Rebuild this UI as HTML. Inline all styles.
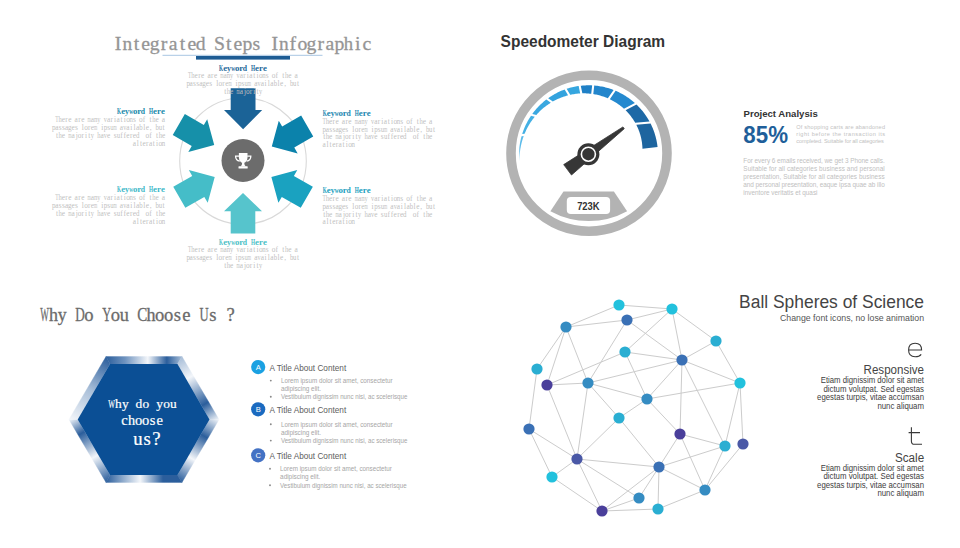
<!DOCTYPE html>
<html><head><meta charset="utf-8"><style>
html,body{margin:0;padding:0;background:#ffffff;width:960px;height:548px;overflow:hidden;}
svg{display:block;}
</style></head><body>
<svg width="960" height="548" viewBox="0 0 960 548">
<rect width="960" height="548" fill="#ffffff"/>
<g font-family='"Liberation Serif", serif' font-size="19.69" font-weight="normal" fill="#959595" stroke="#959595" stroke-width="0.3"><text transform="translate(114.79,49.90) scale(1.000,1)">I</text><text transform="translate(122.38,49.90) scale(0.983,1)">n</text><text transform="translate(133.73,49.90) scale(1.000,1)">t</text><text transform="translate(141.31,49.90) scale(1.000,1)">e</text><text transform="translate(149.78,49.90) scale(1.000,1)">g</text><text transform="translate(160.77,49.90) scale(1.000,1)">r</text><text transform="translate(168.79,49.90) scale(1.000,1)">a</text><text transform="translate(179.81,49.90) scale(1.000,1)">t</text><text transform="translate(187.39,49.90) scale(1.000,1)">e</text><text transform="translate(195.86,49.90) scale(1.000,1)">d</text><text transform="translate(213.93,49.90) scale(1.000,1)">S</text><text transform="translate(225.89,49.90) scale(1.000,1)">t</text><text transform="translate(233.47,49.90) scale(1.000,1)">e</text><text transform="translate(242.40,49.90) scale(1.000,1)">p</text><text transform="translate(252.44,49.90) scale(1.000,1)">s</text><text transform="translate(271.46,49.90) scale(1.000,1)">I</text><text transform="translate(279.05,49.90) scale(0.983,1)">n</text><text transform="translate(289.60,49.90) scale(1.000,1)">f</text><text transform="translate(297.47,49.90) scale(1.000,1)">o</text><text transform="translate(306.45,49.90) scale(1.000,1)">g</text><text transform="translate(317.44,49.90) scale(1.000,1)">r</text><text transform="translate(325.46,49.90) scale(1.000,1)">a</text><text transform="translate(334.56,49.90) scale(1.000,1)">p</text><text transform="translate(343.82,49.90) scale(0.951,1)">h</text><text transform="translate(354.94,49.90) scale(1.000,1)">i</text><text transform="translate(362.46,49.90) scale(1.000,1)">c</text></g>
<rect x="162.5" y="54.8" width="160" height="1" fill="#a9c6e3"/>
<rect x="196" y="56" width="94" height="3.6" fill="#1d5c94"/>
<circle cx="243" cy="161" r="63.3" fill="none" stroke="#d9d9d9" stroke-width="1.1"/>
<polygon points="243.10,129.30 262.20,110.10 255.50,110.10 255.50,88.20 230.70,88.20 230.70,110.10 224.00,110.10" fill="#1b6397"/>
<polygon points="271.78,146.55 297.68,153.42 294.28,147.53 313.25,136.58 301.15,115.62 282.18,126.57 278.78,120.68" fill="#0b82ab"/>
<polygon points="214.22,145.05 207.22,119.18 203.82,125.07 184.85,114.12 172.75,135.08 191.72,146.03 188.32,151.92" fill="#1690a9"/>
<polygon points="214.72,176.90 188.82,170.03 192.22,175.92 173.25,186.87 185.35,207.83 204.32,196.88 207.72,202.77" fill="#45bdc8"/>
<polygon points="271.38,176.90 278.38,202.77 281.78,196.88 300.75,207.83 312.85,186.87 293.88,175.92 297.28,170.03" fill="#1aa2c0"/>
<polygon points="243.00,192.90 224.00,211.20 230.70,211.20 230.70,233.40 255.30,233.40 255.30,211.20 262.00,211.20" fill="#56c4cc"/>
<circle cx="243" cy="160.5" r="21.5" fill="#6c6c6c"/>
<g fill="#ffffff"><path d="M238.9,153.1 H247.5 V157.6 Q247.3,162.3 243.2,163.2 Q239.1,162.3 238.9,157.6 Z"/><path d="M242.2,162.5 H244.2 Q244.2,165.2 245.8,166.4 H240.6 Q242.2,165.2 242.2,162.5 Z"/><rect x="238.5" y="166.2" width="9.2" height="2.3" rx="0.6"/></g><path d="M239.2,156.2 H235.6 Q235.6,160.4 239.8,161.2 M247.2,156.2 H250.8 Q250.8,160.4 246.6,161.2" fill="none" stroke="#ffffff" stroke-width="1.3"/>
<g font-family='"Liberation Serif", serif' font-size="8.85" font-weight="bold" fill="#1f6a9b" ><text transform="translate(219.11,70.90) scale(0.581,1)">K</text><text transform="translate(223.13,70.90) scale(1.000,1)">e</text><text transform="translate(227.11,70.90) scale(0.911,1)">y</text><text transform="translate(231.17,70.90) scale(0.613,1)">w</text><text transform="translate(234.91,70.90) scale(1.000,1)">o</text><text transform="translate(239.13,70.90) scale(1.000,1)">r</text><text transform="translate(242.87,70.90) scale(0.868,1)">d</text><text transform="translate(251.08,70.90) scale(0.588,1)">H</text><text transform="translate(255.11,70.90) scale(1.000,1)">e</text><text transform="translate(259.12,70.90) scale(1.000,1)">r</text><text transform="translate(263.10,70.90) scale(1.000,1)">e</text></g>
<g font-family='"Liberation Serif", serif' font-size="7.33" font-weight="normal" fill="#bfbfbf" ><text transform="translate(188.04,78.30) scale(0.742,1)">T</text><text transform="translate(191.30,78.30) scale(0.896,1)">h</text><text transform="translate(194.52,78.30) scale(1.000,1)">e</text><text transform="translate(198.13,78.30) scale(1.000,1)">r</text><text transform="translate(200.98,78.30) scale(1.000,1)">e</text><text transform="translate(207.38,78.30) scale(1.000,1)">a</text><text transform="translate(211.05,78.30) scale(1.000,1)">r</text><text transform="translate(213.90,78.30) scale(1.000,1)">e</text><text transform="translate(220.35,78.30) scale(0.577,1)">m</text><text transform="translate(223.53,78.30) scale(1.000,1)">a</text><text transform="translate(226.74,78.30) scale(0.926,1)">n</text><text transform="translate(230.05,78.30) scale(0.884,1)">y</text><text transform="translate(236.59,78.30) scale(0.855,1)">v</text><text transform="translate(239.68,78.30) scale(1.000,1)">a</text><text transform="translate(243.35,78.30) scale(1.000,1)">r</text><text transform="translate(246.82,78.30) scale(1.000,1)">i</text><text transform="translate(249.37,78.30) scale(1.000,1)">a</text><text transform="translate(253.27,78.30) scale(1.000,1)">t</text><text transform="translate(256.51,78.30) scale(1.000,1)">i</text><text transform="translate(258.93,78.30) scale(1.000,1)">o</text><text transform="translate(262.27,78.30) scale(0.926,1)">n</text><text transform="translate(265.78,78.30) scale(1.000,1)">s</text><text transform="translate(271.85,78.30) scale(1.000,1)">o</text><text transform="translate(275.58,78.30) scale(1.000,1)">f</text><text transform="translate(282.34,78.30) scale(1.000,1)">t</text><text transform="translate(284.97,78.30) scale(0.896,1)">h</text><text transform="translate(288.19,78.30) scale(1.000,1)">e</text><text transform="translate(294.59,78.30) scale(1.000,1)">a</text></g>
<g font-family='"Liberation Serif", serif' font-size="7.33" font-weight="normal" fill="#bfbfbf" ><text transform="translate(186.41,86.10) scale(0.961,1)">p</text><text transform="translate(189.61,86.10) scale(1.000,1)">a</text><text transform="translate(193.11,86.10) scale(1.000,1)">s</text><text transform="translate(196.34,86.10) scale(1.000,1)">s</text><text transform="translate(199.30,86.10) scale(1.000,1)">a</text><text transform="translate(202.37,86.10) scale(0.976,1)">g</text><text transform="translate(205.83,86.10) scale(1.000,1)">e</text><text transform="translate(209.26,86.10) scale(1.000,1)">s</text><text transform="translate(216.14,86.10) scale(1.000,1)">l</text><text transform="translate(218.56,86.10) scale(1.000,1)">o</text><text transform="translate(222.36,86.10) scale(1.000,1)">r</text><text transform="translate(225.21,86.10) scale(1.000,1)">e</text><text transform="translate(228.42,86.10) scale(0.577,1)">m</text><text transform="translate(235.51,86.10) scale(1.000,1)">i</text><text transform="translate(238.09,86.10) scale(0.961,1)">p</text><text transform="translate(241.56,86.10) scale(1.000,1)">s</text><text transform="translate(244.58,86.10) scale(0.910,1)">u</text><text transform="translate(247.80,86.10) scale(0.577,1)">m</text><text transform="translate(254.21,86.10) scale(1.000,1)">a</text><text transform="translate(257.58,86.10) scale(0.855,1)">v</text><text transform="translate(260.67,86.10) scale(1.000,1)">a</text><text transform="translate(264.58,86.10) scale(1.000,1)">i</text><text transform="translate(267.82,86.10) scale(1.000,1)">l</text><text transform="translate(270.36,86.10) scale(1.000,1)">a</text><text transform="translate(273.73,86.10) scale(0.926,1)">b</text><text transform="translate(277.51,86.10) scale(1.000,1)">l</text><text transform="translate(280.12,86.10) scale(1.000,1)">e</text><text transform="translate(284.17,86.10) scale(1.000,1)">,</text><text transform="translate(289.88,86.10) scale(0.926,1)">b</text><text transform="translate(293.03,86.10) scale(0.910,1)">u</text><text transform="translate(296.88,86.10) scale(1.000,1)">t</text></g>
<g font-family='"Liberation Serif", serif' font-size="7.33" font-weight="normal" fill="#bfbfbf" ><text transform="translate(224.20,93.90) scale(1.000,1)">t</text><text transform="translate(226.83,93.90) scale(0.896,1)">h</text><text transform="translate(230.05,93.90) scale(1.000,1)">e</text><text transform="translate(236.50,93.90) scale(0.577,1)">m</text><text transform="translate(239.68,93.90) scale(1.000,1)">a</text><text transform="translate(244.02,93.90) scale(1.000,1)">j</text><text transform="translate(246.01,93.90) scale(1.000,1)">o</text><text transform="translate(249.81,93.90) scale(1.000,1)">r</text><text transform="translate(253.28,93.90) scale(1.000,1)">i</text><text transform="translate(256.50,93.90) scale(1.000,1)">t</text><text transform="translate(259.12,93.90) scale(0.884,1)">y</text></g>
<g font-family='"Liberation Serif", serif' font-size="8.85" font-weight="bold" fill="#1a8aab" ><text transform="translate(117.11,114.20) scale(0.581,1)">K</text><text transform="translate(121.13,114.20) scale(1.000,1)">e</text><text transform="translate(125.11,114.20) scale(0.911,1)">y</text><text transform="translate(129.17,114.20) scale(0.613,1)">w</text><text transform="translate(132.91,114.20) scale(1.000,1)">o</text><text transform="translate(137.13,114.20) scale(1.000,1)">r</text><text transform="translate(140.87,114.20) scale(0.868,1)">d</text><text transform="translate(149.08,114.20) scale(0.588,1)">H</text><text transform="translate(153.11,114.20) scale(1.000,1)">e</text><text transform="translate(157.12,114.20) scale(1.000,1)">r</text><text transform="translate(161.10,114.20) scale(1.000,1)">e</text></g>
<g font-family='"Liberation Serif", serif' font-size="7.33" font-weight="normal" fill="#bfbfbf" ><text transform="translate(55.28,122.30) scale(0.742,1)">T</text><text transform="translate(58.54,122.30) scale(0.896,1)">h</text><text transform="translate(61.76,122.30) scale(1.000,1)">e</text><text transform="translate(65.37,122.30) scale(1.000,1)">r</text><text transform="translate(68.22,122.30) scale(1.000,1)">e</text><text transform="translate(74.62,122.30) scale(1.000,1)">a</text><text transform="translate(78.29,122.30) scale(1.000,1)">r</text><text transform="translate(81.14,122.30) scale(1.000,1)">e</text><text transform="translate(87.59,122.30) scale(0.577,1)">m</text><text transform="translate(90.77,122.30) scale(1.000,1)">a</text><text transform="translate(93.98,122.30) scale(0.926,1)">n</text><text transform="translate(97.29,122.30) scale(0.884,1)">y</text><text transform="translate(103.83,122.30) scale(0.855,1)">v</text><text transform="translate(106.92,122.30) scale(1.000,1)">a</text><text transform="translate(110.59,122.30) scale(1.000,1)">r</text><text transform="translate(114.06,122.30) scale(1.000,1)">i</text><text transform="translate(116.61,122.30) scale(1.000,1)">a</text><text transform="translate(120.51,122.30) scale(1.000,1)">t</text><text transform="translate(123.75,122.30) scale(1.000,1)">i</text><text transform="translate(126.17,122.30) scale(1.000,1)">o</text><text transform="translate(129.51,122.30) scale(0.926,1)">n</text><text transform="translate(133.02,122.30) scale(1.000,1)">s</text><text transform="translate(139.09,122.30) scale(1.000,1)">o</text><text transform="translate(142.82,122.30) scale(1.000,1)">f</text><text transform="translate(149.58,122.30) scale(1.000,1)">t</text><text transform="translate(152.21,122.30) scale(0.896,1)">h</text><text transform="translate(155.43,122.30) scale(1.000,1)">e</text><text transform="translate(161.83,122.30) scale(1.000,1)">a</text></g>
<g font-family='"Liberation Serif", serif' font-size="7.33" font-weight="normal" fill="#bfbfbf" ><text transform="translate(52.03,130.10) scale(0.961,1)">p</text><text transform="translate(55.24,130.10) scale(1.000,1)">a</text><text transform="translate(58.73,130.10) scale(1.000,1)">s</text><text transform="translate(61.96,130.10) scale(1.000,1)">s</text><text transform="translate(64.93,130.10) scale(1.000,1)">a</text><text transform="translate(67.99,130.10) scale(0.976,1)">g</text><text transform="translate(71.45,130.10) scale(1.000,1)">e</text><text transform="translate(74.88,130.10) scale(1.000,1)">s</text><text transform="translate(81.77,130.10) scale(1.000,1)">l</text><text transform="translate(84.18,130.10) scale(1.000,1)">o</text><text transform="translate(87.98,130.10) scale(1.000,1)">r</text><text transform="translate(90.83,130.10) scale(1.000,1)">e</text><text transform="translate(94.05,130.10) scale(0.577,1)">m</text><text transform="translate(101.14,130.10) scale(1.000,1)">i</text><text transform="translate(103.71,130.10) scale(0.961,1)">p</text><text transform="translate(107.18,130.10) scale(1.000,1)">s</text><text transform="translate(110.20,130.10) scale(0.910,1)">u</text><text transform="translate(113.43,130.10) scale(0.577,1)">m</text><text transform="translate(119.84,130.10) scale(1.000,1)">a</text><text transform="translate(123.21,130.10) scale(0.855,1)">v</text><text transform="translate(126.30,130.10) scale(1.000,1)">a</text><text transform="translate(130.21,130.10) scale(1.000,1)">i</text><text transform="translate(133.45,130.10) scale(1.000,1)">l</text><text transform="translate(135.99,130.10) scale(1.000,1)">a</text><text transform="translate(139.36,130.10) scale(0.926,1)">b</text><text transform="translate(143.14,130.10) scale(1.000,1)">l</text><text transform="translate(145.74,130.10) scale(1.000,1)">e</text><text transform="translate(149.79,130.10) scale(1.000,1)">,</text><text transform="translate(155.51,130.10) scale(0.926,1)">b</text><text transform="translate(158.65,130.10) scale(0.910,1)">u</text><text transform="translate(162.50,130.10) scale(1.000,1)">t</text></g>
<g font-family='"Liberation Serif", serif' font-size="7.33" font-weight="normal" fill="#bfbfbf" ><text transform="translate(55.91,137.90) scale(1.000,1)">t</text><text transform="translate(58.54,137.90) scale(0.896,1)">h</text><text transform="translate(61.76,137.90) scale(1.000,1)">e</text><text transform="translate(68.21,137.90) scale(0.577,1)">m</text><text transform="translate(71.39,137.90) scale(1.000,1)">a</text><text transform="translate(75.73,137.90) scale(1.000,1)">j</text><text transform="translate(77.72,137.90) scale(1.000,1)">o</text><text transform="translate(81.52,137.90) scale(1.000,1)">r</text><text transform="translate(84.99,137.90) scale(1.000,1)">i</text><text transform="translate(88.21,137.90) scale(1.000,1)">t</text><text transform="translate(90.83,137.90) scale(0.884,1)">y</text><text transform="translate(97.30,137.90) scale(0.896,1)">h</text><text transform="translate(100.46,137.90) scale(1.000,1)">a</text><text transform="translate(103.83,137.90) scale(0.855,1)">v</text><text transform="translate(106.98,137.90) scale(1.000,1)">e</text><text transform="translate(113.64,137.90) scale(1.000,1)">s</text><text transform="translate(116.66,137.90) scale(0.910,1)">u</text><text transform="translate(120.21,137.90) scale(1.000,1)">f</text><text transform="translate(123.44,137.90) scale(1.000,1)">f</text><text transform="translate(126.36,137.90) scale(1.000,1)">e</text><text transform="translate(129.97,137.90) scale(1.000,1)">r</text><text transform="translate(132.82,137.90) scale(1.000,1)">e</text><text transform="translate(135.88,137.90) scale(0.947,1)">d</text><text transform="translate(145.55,137.90) scale(1.000,1)">o</text><text transform="translate(149.28,137.90) scale(1.000,1)">f</text><text transform="translate(156.04,137.90) scale(1.000,1)">t</text><text transform="translate(158.67,137.90) scale(0.896,1)">h</text><text transform="translate(161.89,137.90) scale(1.000,1)">e</text></g>
<g font-family='"Liberation Serif", serif' font-size="7.33" font-weight="normal" fill="#bfbfbf" ><text transform="translate(132.76,145.70) scale(1.000,1)">a</text><text transform="translate(136.68,145.70) scale(1.000,1)">l</text><text transform="translate(139.89,145.70) scale(1.000,1)">t</text><text transform="translate(142.51,145.70) scale(1.000,1)">e</text><text transform="translate(146.12,145.70) scale(1.000,1)">r</text><text transform="translate(148.91,145.70) scale(1.000,1)">a</text><text transform="translate(152.81,145.70) scale(1.000,1)">t</text><text transform="translate(156.05,145.70) scale(1.000,1)">i</text><text transform="translate(158.47,145.70) scale(1.000,1)">o</text><text transform="translate(161.81,145.70) scale(0.926,1)">n</text></g>
<g font-family='"Liberation Serif", serif' font-size="8.85" font-weight="bold" fill="#1b87b0" ><text transform="translate(322.81,116.00) scale(0.581,1)">K</text><text transform="translate(326.83,116.00) scale(1.000,1)">e</text><text transform="translate(330.81,116.00) scale(0.911,1)">y</text><text transform="translate(334.87,116.00) scale(0.613,1)">w</text><text transform="translate(338.61,116.00) scale(1.000,1)">o</text><text transform="translate(342.83,116.00) scale(1.000,1)">r</text><text transform="translate(346.57,116.00) scale(0.868,1)">d</text><text transform="translate(354.78,116.00) scale(0.588,1)">H</text><text transform="translate(358.81,116.00) scale(1.000,1)">e</text><text transform="translate(362.82,116.00) scale(1.000,1)">r</text><text transform="translate(366.80,116.00) scale(1.000,1)">e</text></g>
<g font-family='"Liberation Serif", serif' font-size="7.33" font-weight="normal" fill="#bfbfbf" ><text transform="translate(322.50,123.70) scale(0.742,1)">T</text><text transform="translate(325.76,123.70) scale(0.896,1)">h</text><text transform="translate(328.98,123.70) scale(1.000,1)">e</text><text transform="translate(332.59,123.70) scale(1.000,1)">r</text><text transform="translate(335.44,123.70) scale(1.000,1)">e</text><text transform="translate(341.84,123.70) scale(1.000,1)">a</text><text transform="translate(345.51,123.70) scale(1.000,1)">r</text><text transform="translate(348.36,123.70) scale(1.000,1)">e</text><text transform="translate(354.81,123.70) scale(0.577,1)">m</text><text transform="translate(357.99,123.70) scale(1.000,1)">a</text><text transform="translate(361.20,123.70) scale(0.926,1)">n</text><text transform="translate(364.51,123.70) scale(0.884,1)">y</text><text transform="translate(371.05,123.70) scale(0.855,1)">v</text><text transform="translate(374.14,123.70) scale(1.000,1)">a</text><text transform="translate(377.81,123.70) scale(1.000,1)">r</text><text transform="translate(381.28,123.70) scale(1.000,1)">i</text><text transform="translate(383.83,123.70) scale(1.000,1)">a</text><text transform="translate(387.73,123.70) scale(1.000,1)">t</text><text transform="translate(390.97,123.70) scale(1.000,1)">i</text><text transform="translate(393.39,123.70) scale(1.000,1)">o</text><text transform="translate(396.73,123.70) scale(0.926,1)">n</text><text transform="translate(400.24,123.70) scale(1.000,1)">s</text><text transform="translate(406.31,123.70) scale(1.000,1)">o</text><text transform="translate(410.04,123.70) scale(1.000,1)">f</text><text transform="translate(416.80,123.70) scale(1.000,1)">t</text><text transform="translate(419.43,123.70) scale(0.896,1)">h</text><text transform="translate(422.65,123.70) scale(1.000,1)">e</text><text transform="translate(429.05,123.70) scale(1.000,1)">a</text></g>
<g font-family='"Liberation Serif", serif' font-size="7.33" font-weight="normal" fill="#bfbfbf" ><text transform="translate(322.48,131.50) scale(0.961,1)">p</text><text transform="translate(325.69,131.50) scale(1.000,1)">a</text><text transform="translate(329.18,131.50) scale(1.000,1)">s</text><text transform="translate(332.41,131.50) scale(1.000,1)">s</text><text transform="translate(335.38,131.50) scale(1.000,1)">a</text><text transform="translate(338.44,131.50) scale(0.976,1)">g</text><text transform="translate(341.90,131.50) scale(1.000,1)">e</text><text transform="translate(345.33,131.50) scale(1.000,1)">s</text><text transform="translate(352.22,131.50) scale(1.000,1)">l</text><text transform="translate(354.63,131.50) scale(1.000,1)">o</text><text transform="translate(358.43,131.50) scale(1.000,1)">r</text><text transform="translate(361.28,131.50) scale(1.000,1)">e</text><text transform="translate(364.50,131.50) scale(0.577,1)">m</text><text transform="translate(371.59,131.50) scale(1.000,1)">i</text><text transform="translate(374.16,131.50) scale(0.961,1)">p</text><text transform="translate(377.63,131.50) scale(1.000,1)">s</text><text transform="translate(380.65,131.50) scale(0.910,1)">u</text><text transform="translate(383.88,131.50) scale(0.577,1)">m</text><text transform="translate(390.29,131.50) scale(1.000,1)">a</text><text transform="translate(393.66,131.50) scale(0.855,1)">v</text><text transform="translate(396.75,131.50) scale(1.000,1)">a</text><text transform="translate(400.66,131.50) scale(1.000,1)">i</text><text transform="translate(403.90,131.50) scale(1.000,1)">l</text><text transform="translate(406.44,131.50) scale(1.000,1)">a</text><text transform="translate(409.81,131.50) scale(0.926,1)">b</text><text transform="translate(413.59,131.50) scale(1.000,1)">l</text><text transform="translate(416.19,131.50) scale(1.000,1)">e</text><text transform="translate(420.24,131.50) scale(1.000,1)">,</text><text transform="translate(425.96,131.50) scale(0.926,1)">b</text><text transform="translate(429.10,131.50) scale(0.910,1)">u</text><text transform="translate(432.95,131.50) scale(1.000,1)">t</text></g>
<g font-family='"Liberation Serif", serif' font-size="7.33" font-weight="normal" fill="#bfbfbf" ><text transform="translate(323.13,139.30) scale(1.000,1)">t</text><text transform="translate(325.76,139.30) scale(0.896,1)">h</text><text transform="translate(328.98,139.30) scale(1.000,1)">e</text><text transform="translate(335.43,139.30) scale(0.577,1)">m</text><text transform="translate(338.61,139.30) scale(1.000,1)">a</text><text transform="translate(342.95,139.30) scale(1.000,1)">j</text><text transform="translate(344.94,139.30) scale(1.000,1)">o</text><text transform="translate(348.74,139.30) scale(1.000,1)">r</text><text transform="translate(352.21,139.30) scale(1.000,1)">i</text><text transform="translate(355.43,139.30) scale(1.000,1)">t</text><text transform="translate(358.05,139.30) scale(0.884,1)">y</text><text transform="translate(364.52,139.30) scale(0.896,1)">h</text><text transform="translate(367.68,139.30) scale(1.000,1)">a</text><text transform="translate(371.05,139.30) scale(0.855,1)">v</text><text transform="translate(374.20,139.30) scale(1.000,1)">e</text><text transform="translate(380.86,139.30) scale(1.000,1)">s</text><text transform="translate(383.88,139.30) scale(0.910,1)">u</text><text transform="translate(387.43,139.30) scale(1.000,1)">f</text><text transform="translate(390.66,139.30) scale(1.000,1)">f</text><text transform="translate(393.58,139.30) scale(1.000,1)">e</text><text transform="translate(397.19,139.30) scale(1.000,1)">r</text><text transform="translate(400.04,139.30) scale(1.000,1)">e</text><text transform="translate(403.10,139.30) scale(0.947,1)">d</text><text transform="translate(412.77,139.30) scale(1.000,1)">o</text><text transform="translate(416.50,139.30) scale(1.000,1)">f</text><text transform="translate(423.26,139.30) scale(1.000,1)">t</text><text transform="translate(425.89,139.30) scale(0.896,1)">h</text><text transform="translate(429.11,139.30) scale(1.000,1)">e</text></g>
<g font-family='"Liberation Serif", serif' font-size="7.33" font-weight="normal" fill="#bfbfbf" ><text transform="translate(322.46,147.10) scale(1.000,1)">a</text><text transform="translate(326.38,147.10) scale(1.000,1)">l</text><text transform="translate(329.59,147.10) scale(1.000,1)">t</text><text transform="translate(332.21,147.10) scale(1.000,1)">e</text><text transform="translate(335.82,147.10) scale(1.000,1)">r</text><text transform="translate(338.61,147.10) scale(1.000,1)">a</text><text transform="translate(342.51,147.10) scale(1.000,1)">t</text><text transform="translate(345.75,147.10) scale(1.000,1)">i</text><text transform="translate(348.17,147.10) scale(1.000,1)">o</text><text transform="translate(351.51,147.10) scale(0.926,1)">n</text></g>
<g font-family='"Liberation Serif", serif' font-size="8.85" font-weight="bold" fill="#3db8c8" ><text transform="translate(117.11,192.20) scale(0.581,1)">K</text><text transform="translate(121.13,192.20) scale(1.000,1)">e</text><text transform="translate(125.11,192.20) scale(0.911,1)">y</text><text transform="translate(129.17,192.20) scale(0.613,1)">w</text><text transform="translate(132.91,192.20) scale(1.000,1)">o</text><text transform="translate(137.13,192.20) scale(1.000,1)">r</text><text transform="translate(140.87,192.20) scale(0.868,1)">d</text><text transform="translate(149.08,192.20) scale(0.588,1)">H</text><text transform="translate(153.11,192.20) scale(1.000,1)">e</text><text transform="translate(157.12,192.20) scale(1.000,1)">r</text><text transform="translate(161.10,192.20) scale(1.000,1)">e</text></g>
<g font-family='"Liberation Serif", serif' font-size="7.33" font-weight="normal" fill="#bfbfbf" ><text transform="translate(55.28,200.30) scale(0.742,1)">T</text><text transform="translate(58.54,200.30) scale(0.896,1)">h</text><text transform="translate(61.76,200.30) scale(1.000,1)">e</text><text transform="translate(65.37,200.30) scale(1.000,1)">r</text><text transform="translate(68.22,200.30) scale(1.000,1)">e</text><text transform="translate(74.62,200.30) scale(1.000,1)">a</text><text transform="translate(78.29,200.30) scale(1.000,1)">r</text><text transform="translate(81.14,200.30) scale(1.000,1)">e</text><text transform="translate(87.59,200.30) scale(0.577,1)">m</text><text transform="translate(90.77,200.30) scale(1.000,1)">a</text><text transform="translate(93.98,200.30) scale(0.926,1)">n</text><text transform="translate(97.29,200.30) scale(0.884,1)">y</text><text transform="translate(103.83,200.30) scale(0.855,1)">v</text><text transform="translate(106.92,200.30) scale(1.000,1)">a</text><text transform="translate(110.59,200.30) scale(1.000,1)">r</text><text transform="translate(114.06,200.30) scale(1.000,1)">i</text><text transform="translate(116.61,200.30) scale(1.000,1)">a</text><text transform="translate(120.51,200.30) scale(1.000,1)">t</text><text transform="translate(123.75,200.30) scale(1.000,1)">i</text><text transform="translate(126.17,200.30) scale(1.000,1)">o</text><text transform="translate(129.51,200.30) scale(0.926,1)">n</text><text transform="translate(133.02,200.30) scale(1.000,1)">s</text><text transform="translate(139.09,200.30) scale(1.000,1)">o</text><text transform="translate(142.82,200.30) scale(1.000,1)">f</text><text transform="translate(149.58,200.30) scale(1.000,1)">t</text><text transform="translate(152.21,200.30) scale(0.896,1)">h</text><text transform="translate(155.43,200.30) scale(1.000,1)">e</text><text transform="translate(161.83,200.30) scale(1.000,1)">a</text></g>
<g font-family='"Liberation Serif", serif' font-size="7.33" font-weight="normal" fill="#bfbfbf" ><text transform="translate(52.03,208.10) scale(0.961,1)">p</text><text transform="translate(55.24,208.10) scale(1.000,1)">a</text><text transform="translate(58.73,208.10) scale(1.000,1)">s</text><text transform="translate(61.96,208.10) scale(1.000,1)">s</text><text transform="translate(64.93,208.10) scale(1.000,1)">a</text><text transform="translate(67.99,208.10) scale(0.976,1)">g</text><text transform="translate(71.45,208.10) scale(1.000,1)">e</text><text transform="translate(74.88,208.10) scale(1.000,1)">s</text><text transform="translate(81.77,208.10) scale(1.000,1)">l</text><text transform="translate(84.18,208.10) scale(1.000,1)">o</text><text transform="translate(87.98,208.10) scale(1.000,1)">r</text><text transform="translate(90.83,208.10) scale(1.000,1)">e</text><text transform="translate(94.05,208.10) scale(0.577,1)">m</text><text transform="translate(101.14,208.10) scale(1.000,1)">i</text><text transform="translate(103.71,208.10) scale(0.961,1)">p</text><text transform="translate(107.18,208.10) scale(1.000,1)">s</text><text transform="translate(110.20,208.10) scale(0.910,1)">u</text><text transform="translate(113.43,208.10) scale(0.577,1)">m</text><text transform="translate(119.84,208.10) scale(1.000,1)">a</text><text transform="translate(123.21,208.10) scale(0.855,1)">v</text><text transform="translate(126.30,208.10) scale(1.000,1)">a</text><text transform="translate(130.21,208.10) scale(1.000,1)">i</text><text transform="translate(133.45,208.10) scale(1.000,1)">l</text><text transform="translate(135.99,208.10) scale(1.000,1)">a</text><text transform="translate(139.36,208.10) scale(0.926,1)">b</text><text transform="translate(143.14,208.10) scale(1.000,1)">l</text><text transform="translate(145.74,208.10) scale(1.000,1)">e</text><text transform="translate(149.79,208.10) scale(1.000,1)">,</text><text transform="translate(155.51,208.10) scale(0.926,1)">b</text><text transform="translate(158.65,208.10) scale(0.910,1)">u</text><text transform="translate(162.50,208.10) scale(1.000,1)">t</text></g>
<g font-family='"Liberation Serif", serif' font-size="7.33" font-weight="normal" fill="#bfbfbf" ><text transform="translate(55.91,215.90) scale(1.000,1)">t</text><text transform="translate(58.54,215.90) scale(0.896,1)">h</text><text transform="translate(61.76,215.90) scale(1.000,1)">e</text><text transform="translate(68.21,215.90) scale(0.577,1)">m</text><text transform="translate(71.39,215.90) scale(1.000,1)">a</text><text transform="translate(75.73,215.90) scale(1.000,1)">j</text><text transform="translate(77.72,215.90) scale(1.000,1)">o</text><text transform="translate(81.52,215.90) scale(1.000,1)">r</text><text transform="translate(84.99,215.90) scale(1.000,1)">i</text><text transform="translate(88.21,215.90) scale(1.000,1)">t</text><text transform="translate(90.83,215.90) scale(0.884,1)">y</text><text transform="translate(97.30,215.90) scale(0.896,1)">h</text><text transform="translate(100.46,215.90) scale(1.000,1)">a</text><text transform="translate(103.83,215.90) scale(0.855,1)">v</text><text transform="translate(106.98,215.90) scale(1.000,1)">e</text><text transform="translate(113.64,215.90) scale(1.000,1)">s</text><text transform="translate(116.66,215.90) scale(0.910,1)">u</text><text transform="translate(120.21,215.90) scale(1.000,1)">f</text><text transform="translate(123.44,215.90) scale(1.000,1)">f</text><text transform="translate(126.36,215.90) scale(1.000,1)">e</text><text transform="translate(129.97,215.90) scale(1.000,1)">r</text><text transform="translate(132.82,215.90) scale(1.000,1)">e</text><text transform="translate(135.88,215.90) scale(0.947,1)">d</text><text transform="translate(145.55,215.90) scale(1.000,1)">o</text><text transform="translate(149.28,215.90) scale(1.000,1)">f</text><text transform="translate(156.04,215.90) scale(1.000,1)">t</text><text transform="translate(158.67,215.90) scale(0.896,1)">h</text><text transform="translate(161.89,215.90) scale(1.000,1)">e</text></g>
<g font-family='"Liberation Serif", serif' font-size="7.33" font-weight="normal" fill="#bfbfbf" ><text transform="translate(132.76,223.70) scale(1.000,1)">a</text><text transform="translate(136.68,223.70) scale(1.000,1)">l</text><text transform="translate(139.89,223.70) scale(1.000,1)">t</text><text transform="translate(142.51,223.70) scale(1.000,1)">e</text><text transform="translate(146.12,223.70) scale(1.000,1)">r</text><text transform="translate(148.91,223.70) scale(1.000,1)">a</text><text transform="translate(152.81,223.70) scale(1.000,1)">t</text><text transform="translate(156.05,223.70) scale(1.000,1)">i</text><text transform="translate(158.47,223.70) scale(1.000,1)">o</text><text transform="translate(161.81,223.70) scale(0.926,1)">n</text></g>
<g font-family='"Liberation Serif", serif' font-size="8.85" font-weight="bold" fill="#1a9fc0" ><text transform="translate(322.81,192.60) scale(0.581,1)">K</text><text transform="translate(326.83,192.60) scale(1.000,1)">e</text><text transform="translate(330.81,192.60) scale(0.911,1)">y</text><text transform="translate(334.87,192.60) scale(0.613,1)">w</text><text transform="translate(338.61,192.60) scale(1.000,1)">o</text><text transform="translate(342.83,192.60) scale(1.000,1)">r</text><text transform="translate(346.57,192.60) scale(0.868,1)">d</text><text transform="translate(354.78,192.60) scale(0.588,1)">H</text><text transform="translate(358.81,192.60) scale(1.000,1)">e</text><text transform="translate(362.82,192.60) scale(1.000,1)">r</text><text transform="translate(366.80,192.60) scale(1.000,1)">e</text></g>
<g font-family='"Liberation Serif", serif' font-size="7.33" font-weight="normal" fill="#bfbfbf" ><text transform="translate(322.50,201.00) scale(0.742,1)">T</text><text transform="translate(325.76,201.00) scale(0.896,1)">h</text><text transform="translate(328.98,201.00) scale(1.000,1)">e</text><text transform="translate(332.59,201.00) scale(1.000,1)">r</text><text transform="translate(335.44,201.00) scale(1.000,1)">e</text><text transform="translate(341.84,201.00) scale(1.000,1)">a</text><text transform="translate(345.51,201.00) scale(1.000,1)">r</text><text transform="translate(348.36,201.00) scale(1.000,1)">e</text><text transform="translate(354.81,201.00) scale(0.577,1)">m</text><text transform="translate(357.99,201.00) scale(1.000,1)">a</text><text transform="translate(361.20,201.00) scale(0.926,1)">n</text><text transform="translate(364.51,201.00) scale(0.884,1)">y</text><text transform="translate(371.05,201.00) scale(0.855,1)">v</text><text transform="translate(374.14,201.00) scale(1.000,1)">a</text><text transform="translate(377.81,201.00) scale(1.000,1)">r</text><text transform="translate(381.28,201.00) scale(1.000,1)">i</text><text transform="translate(383.83,201.00) scale(1.000,1)">a</text><text transform="translate(387.73,201.00) scale(1.000,1)">t</text><text transform="translate(390.97,201.00) scale(1.000,1)">i</text><text transform="translate(393.39,201.00) scale(1.000,1)">o</text><text transform="translate(396.73,201.00) scale(0.926,1)">n</text><text transform="translate(400.24,201.00) scale(1.000,1)">s</text><text transform="translate(406.31,201.00) scale(1.000,1)">o</text><text transform="translate(410.04,201.00) scale(1.000,1)">f</text><text transform="translate(416.80,201.00) scale(1.000,1)">t</text><text transform="translate(419.43,201.00) scale(0.896,1)">h</text><text transform="translate(422.65,201.00) scale(1.000,1)">e</text><text transform="translate(429.05,201.00) scale(1.000,1)">a</text></g>
<g font-family='"Liberation Serif", serif' font-size="7.33" font-weight="normal" fill="#bfbfbf" ><text transform="translate(322.48,208.80) scale(0.961,1)">p</text><text transform="translate(325.69,208.80) scale(1.000,1)">a</text><text transform="translate(329.18,208.80) scale(1.000,1)">s</text><text transform="translate(332.41,208.80) scale(1.000,1)">s</text><text transform="translate(335.38,208.80) scale(1.000,1)">a</text><text transform="translate(338.44,208.80) scale(0.976,1)">g</text><text transform="translate(341.90,208.80) scale(1.000,1)">e</text><text transform="translate(345.33,208.80) scale(1.000,1)">s</text><text transform="translate(352.22,208.80) scale(1.000,1)">l</text><text transform="translate(354.63,208.80) scale(1.000,1)">o</text><text transform="translate(358.43,208.80) scale(1.000,1)">r</text><text transform="translate(361.28,208.80) scale(1.000,1)">e</text><text transform="translate(364.50,208.80) scale(0.577,1)">m</text><text transform="translate(371.59,208.80) scale(1.000,1)">i</text><text transform="translate(374.16,208.80) scale(0.961,1)">p</text><text transform="translate(377.63,208.80) scale(1.000,1)">s</text><text transform="translate(380.65,208.80) scale(0.910,1)">u</text><text transform="translate(383.88,208.80) scale(0.577,1)">m</text><text transform="translate(390.29,208.80) scale(1.000,1)">a</text><text transform="translate(393.66,208.80) scale(0.855,1)">v</text><text transform="translate(396.75,208.80) scale(1.000,1)">a</text><text transform="translate(400.66,208.80) scale(1.000,1)">i</text><text transform="translate(403.90,208.80) scale(1.000,1)">l</text><text transform="translate(406.44,208.80) scale(1.000,1)">a</text><text transform="translate(409.81,208.80) scale(0.926,1)">b</text><text transform="translate(413.59,208.80) scale(1.000,1)">l</text><text transform="translate(416.19,208.80) scale(1.000,1)">e</text><text transform="translate(420.24,208.80) scale(1.000,1)">,</text><text transform="translate(425.96,208.80) scale(0.926,1)">b</text><text transform="translate(429.10,208.80) scale(0.910,1)">u</text><text transform="translate(432.95,208.80) scale(1.000,1)">t</text></g>
<g font-family='"Liberation Serif", serif' font-size="7.33" font-weight="normal" fill="#bfbfbf" ><text transform="translate(323.13,216.60) scale(1.000,1)">t</text><text transform="translate(325.76,216.60) scale(0.896,1)">h</text><text transform="translate(328.98,216.60) scale(1.000,1)">e</text><text transform="translate(335.43,216.60) scale(0.577,1)">m</text><text transform="translate(338.61,216.60) scale(1.000,1)">a</text><text transform="translate(342.95,216.60) scale(1.000,1)">j</text><text transform="translate(344.94,216.60) scale(1.000,1)">o</text><text transform="translate(348.74,216.60) scale(1.000,1)">r</text><text transform="translate(352.21,216.60) scale(1.000,1)">i</text><text transform="translate(355.43,216.60) scale(1.000,1)">t</text><text transform="translate(358.05,216.60) scale(0.884,1)">y</text><text transform="translate(364.52,216.60) scale(0.896,1)">h</text><text transform="translate(367.68,216.60) scale(1.000,1)">a</text><text transform="translate(371.05,216.60) scale(0.855,1)">v</text><text transform="translate(374.20,216.60) scale(1.000,1)">e</text><text transform="translate(380.86,216.60) scale(1.000,1)">s</text><text transform="translate(383.88,216.60) scale(0.910,1)">u</text><text transform="translate(387.43,216.60) scale(1.000,1)">f</text><text transform="translate(390.66,216.60) scale(1.000,1)">f</text><text transform="translate(393.58,216.60) scale(1.000,1)">e</text><text transform="translate(397.19,216.60) scale(1.000,1)">r</text><text transform="translate(400.04,216.60) scale(1.000,1)">e</text><text transform="translate(403.10,216.60) scale(0.947,1)">d</text><text transform="translate(412.77,216.60) scale(1.000,1)">o</text><text transform="translate(416.50,216.60) scale(1.000,1)">f</text><text transform="translate(423.26,216.60) scale(1.000,1)">t</text><text transform="translate(425.89,216.60) scale(0.896,1)">h</text><text transform="translate(429.11,216.60) scale(1.000,1)">e</text></g>
<g font-family='"Liberation Serif", serif' font-size="7.33" font-weight="normal" fill="#bfbfbf" ><text transform="translate(322.46,224.40) scale(1.000,1)">a</text><text transform="translate(326.38,224.40) scale(1.000,1)">l</text><text transform="translate(329.59,224.40) scale(1.000,1)">t</text><text transform="translate(332.21,224.40) scale(1.000,1)">e</text><text transform="translate(335.82,224.40) scale(1.000,1)">r</text><text transform="translate(338.61,224.40) scale(1.000,1)">a</text><text transform="translate(342.51,224.40) scale(1.000,1)">t</text><text transform="translate(345.75,224.40) scale(1.000,1)">i</text><text transform="translate(348.17,224.40) scale(1.000,1)">o</text><text transform="translate(351.51,224.40) scale(0.926,1)">n</text></g>
<g font-family='"Liberation Serif", serif' font-size="8.85" font-weight="bold" fill="#4bbfc6" ><text transform="translate(219.11,244.60) scale(0.581,1)">K</text><text transform="translate(223.13,244.60) scale(1.000,1)">e</text><text transform="translate(227.11,244.60) scale(0.911,1)">y</text><text transform="translate(231.17,244.60) scale(0.613,1)">w</text><text transform="translate(234.91,244.60) scale(1.000,1)">o</text><text transform="translate(239.13,244.60) scale(1.000,1)">r</text><text transform="translate(242.87,244.60) scale(0.868,1)">d</text><text transform="translate(251.08,244.60) scale(0.588,1)">H</text><text transform="translate(255.11,244.60) scale(1.000,1)">e</text><text transform="translate(259.12,244.60) scale(1.000,1)">r</text><text transform="translate(263.10,244.60) scale(1.000,1)">e</text></g>
<g font-family='"Liberation Serif", serif' font-size="7.33" font-weight="normal" fill="#bfbfbf" ><text transform="translate(188.04,252.20) scale(0.742,1)">T</text><text transform="translate(191.30,252.20) scale(0.896,1)">h</text><text transform="translate(194.52,252.20) scale(1.000,1)">e</text><text transform="translate(198.13,252.20) scale(1.000,1)">r</text><text transform="translate(200.98,252.20) scale(1.000,1)">e</text><text transform="translate(207.38,252.20) scale(1.000,1)">a</text><text transform="translate(211.05,252.20) scale(1.000,1)">r</text><text transform="translate(213.90,252.20) scale(1.000,1)">e</text><text transform="translate(220.35,252.20) scale(0.577,1)">m</text><text transform="translate(223.53,252.20) scale(1.000,1)">a</text><text transform="translate(226.74,252.20) scale(0.926,1)">n</text><text transform="translate(230.05,252.20) scale(0.884,1)">y</text><text transform="translate(236.59,252.20) scale(0.855,1)">v</text><text transform="translate(239.68,252.20) scale(1.000,1)">a</text><text transform="translate(243.35,252.20) scale(1.000,1)">r</text><text transform="translate(246.82,252.20) scale(1.000,1)">i</text><text transform="translate(249.37,252.20) scale(1.000,1)">a</text><text transform="translate(253.27,252.20) scale(1.000,1)">t</text><text transform="translate(256.51,252.20) scale(1.000,1)">i</text><text transform="translate(258.93,252.20) scale(1.000,1)">o</text><text transform="translate(262.27,252.20) scale(0.926,1)">n</text><text transform="translate(265.78,252.20) scale(1.000,1)">s</text><text transform="translate(271.85,252.20) scale(1.000,1)">o</text><text transform="translate(275.58,252.20) scale(1.000,1)">f</text><text transform="translate(282.34,252.20) scale(1.000,1)">t</text><text transform="translate(284.97,252.20) scale(0.896,1)">h</text><text transform="translate(288.19,252.20) scale(1.000,1)">e</text><text transform="translate(294.59,252.20) scale(1.000,1)">a</text></g>
<g font-family='"Liberation Serif", serif' font-size="7.33" font-weight="normal" fill="#bfbfbf" ><text transform="translate(186.41,260.00) scale(0.961,1)">p</text><text transform="translate(189.61,260.00) scale(1.000,1)">a</text><text transform="translate(193.11,260.00) scale(1.000,1)">s</text><text transform="translate(196.34,260.00) scale(1.000,1)">s</text><text transform="translate(199.30,260.00) scale(1.000,1)">a</text><text transform="translate(202.37,260.00) scale(0.976,1)">g</text><text transform="translate(205.83,260.00) scale(1.000,1)">e</text><text transform="translate(209.26,260.00) scale(1.000,1)">s</text><text transform="translate(216.14,260.00) scale(1.000,1)">l</text><text transform="translate(218.56,260.00) scale(1.000,1)">o</text><text transform="translate(222.36,260.00) scale(1.000,1)">r</text><text transform="translate(225.21,260.00) scale(1.000,1)">e</text><text transform="translate(228.42,260.00) scale(0.577,1)">m</text><text transform="translate(235.51,260.00) scale(1.000,1)">i</text><text transform="translate(238.09,260.00) scale(0.961,1)">p</text><text transform="translate(241.56,260.00) scale(1.000,1)">s</text><text transform="translate(244.58,260.00) scale(0.910,1)">u</text><text transform="translate(247.80,260.00) scale(0.577,1)">m</text><text transform="translate(254.21,260.00) scale(1.000,1)">a</text><text transform="translate(257.58,260.00) scale(0.855,1)">v</text><text transform="translate(260.67,260.00) scale(1.000,1)">a</text><text transform="translate(264.58,260.00) scale(1.000,1)">i</text><text transform="translate(267.82,260.00) scale(1.000,1)">l</text><text transform="translate(270.36,260.00) scale(1.000,1)">a</text><text transform="translate(273.73,260.00) scale(0.926,1)">b</text><text transform="translate(277.51,260.00) scale(1.000,1)">l</text><text transform="translate(280.12,260.00) scale(1.000,1)">e</text><text transform="translate(284.17,260.00) scale(1.000,1)">,</text><text transform="translate(289.88,260.00) scale(0.926,1)">b</text><text transform="translate(293.03,260.00) scale(0.910,1)">u</text><text transform="translate(296.88,260.00) scale(1.000,1)">t</text></g>
<g font-family='"Liberation Serif", serif' font-size="7.33" font-weight="normal" fill="#bfbfbf" ><text transform="translate(224.20,267.80) scale(1.000,1)">t</text><text transform="translate(226.83,267.80) scale(0.896,1)">h</text><text transform="translate(230.05,267.80) scale(1.000,1)">e</text><text transform="translate(236.50,267.80) scale(0.577,1)">m</text><text transform="translate(239.68,267.80) scale(1.000,1)">a</text><text transform="translate(244.02,267.80) scale(1.000,1)">j</text><text transform="translate(246.01,267.80) scale(1.000,1)">o</text><text transform="translate(249.81,267.80) scale(1.000,1)">r</text><text transform="translate(253.28,267.80) scale(1.000,1)">i</text><text transform="translate(256.50,267.80) scale(1.000,1)">t</text><text transform="translate(259.12,267.80) scale(0.884,1)">y</text></g>
<text x="500.60" y="46.60" font-family='"Liberation Sans", sans-serif' font-size="15.84" font-weight="bold" fill="#333333" text-anchor="start" textLength="164.50" lengthAdjust="spacingAndGlyphs" xml:space="preserve" >Speedometer Diagram</text>
<circle cx="589" cy="153.3" r="78" fill="none" stroke="#b3b3b3" stroke-width="9.6"/>
<defs><linearGradient id="fade" gradientUnits="userSpaceOnUse" x1="0" y1="162.5" x2="0" y2="136"><stop offset="0" stop-color="#5cbbe9" stop-opacity="0"/><stop offset="0.55" stop-color="#5cbbe9" stop-opacity="1"/></linearGradient></defs>
<polygon points="519.55,160.71 519.54,159.51 519.56,158.31 519.59,157.12 519.64,155.92 519.71,154.73 519.81,153.55 519.92,152.36 520.06,151.18 520.21,150.00 520.39,148.83 520.58,147.66 520.80,146.50 521.04,145.34 521.29,144.18 521.57,143.04 521.86,141.90 522.18,140.76 522.51,139.64 522.86,138.52 523.23,137.41 523.62,136.30 523.75,135.98 521.53,136.21 521.34,136.90 521.04,138.07 520.76,139.24 520.51,140.41 520.27,141.59 520.05,142.77 519.85,143.96 519.67,145.15 519.52,146.34 519.38,147.53 519.27,148.73 519.17,149.93 519.10,151.13 519.04,152.33 519.01,153.53 519.00,154.73 519.01,155.93 519.04,157.14 519.09,158.34 519.16,159.54 519.25,160.74 519.55,160.71" fill="url(#fade)"/>
<polygon points="524.91,133.04 525.37,131.97 525.85,130.92 526.35,129.87 526.87,128.83 527.40,127.80 527.95,126.78 528.52,125.77 529.11,124.78 529.71,123.79 530.32,122.82 530.96,121.86 531.61,120.91 532.27,119.98 532.95,119.05 533.65,118.14 534.36,117.25 534.82,116.69 530.98,115.80 530.72,116.18 530.06,117.19 529.41,118.21 528.79,119.23 528.18,120.27 527.60,121.32 527.03,122.38 526.47,123.45 525.94,124.52 525.43,125.61 524.93,126.71 524.45,127.81 524.00,128.92 523.56,130.04 523.14,131.17 522.74,132.30 522.36,133.44 522.18,134.03 524.60,133.77 524.91,133.04" fill="#44b0e4"/>
<polygon points="536.58,114.64 537.34,113.80 538.12,112.98 538.92,112.17 539.72,111.37 540.54,110.59 541.38,109.82 542.22,109.07 543.07,108.34 543.94,107.62 544.82,106.92 545.71,106.23 546.61,105.56 547.52,104.91 548.44,104.27 549.37,103.65 550.31,103.05 550.84,102.72 546.34,99.55 546.27,99.60 545.32,100.34 544.39,101.09 543.47,101.86 542.56,102.65 541.66,103.45 540.78,104.27 539.91,105.10 539.06,105.95 538.22,106.81 537.40,107.69 536.59,108.58 535.80,109.49 535.03,110.41 534.27,111.34 533.52,112.28 532.80,113.24 532.28,113.94 536.36,114.89 536.58,114.64" fill="#3aa8e0"/>
<polygon points="553.18,101.34 554.16,100.81 555.14,100.30 556.13,99.80 557.13,99.32 558.13,98.86 559.14,98.41 560.16,97.99 561.18,97.58 562.21,97.19 563.24,96.82 564.28,96.47 565.32,96.14 566.37,95.82 567.42,95.53 568.06,95.36 564.62,89.53 564.08,89.73 562.96,90.16 561.85,90.61 560.74,91.08 559.64,91.57 558.56,92.08 557.47,92.61 556.40,93.16 555.34,93.72 554.29,94.30 553.25,94.90 552.22,95.52 551.20,96.16 550.19,96.81 549.19,97.48 548.21,98.17 548.12,98.23 552.83,101.55 553.18,101.34" fill="#33a3de"/>
<polygon points="570.60,94.75 571.66,94.53 572.73,94.33 573.79,94.15 574.86,93.98 575.93,93.83 577.01,93.71 578.08,93.60 579.15,93.51 580.21,93.44 578.65,86.00 578.02,86.09 576.83,86.29 575.65,86.50 574.47,86.73 573.29,86.98 572.12,87.26 570.96,87.55 569.80,87.86 568.64,88.20 567.49,88.55 566.64,88.83 570.19,94.84 570.60,94.75" fill="#35a6df"/>
<polygon points="582.37,93.36 583.44,93.34 584.51,93.35 585.57,93.37 586.64,93.41 587.70,93.47 588.76,93.55 589.82,93.64 590.88,93.76 591.22,93.80 592.15,85.40 591.20,85.35 590.00,85.32 588.80,85.30 587.60,85.31 586.40,85.33 585.19,85.38 583.99,85.45 582.79,85.53 581.60,85.64 580.74,85.74 582.34,93.36 582.37,93.36" fill="#1f80c6"/>
<polygon points="594.02,94.21 595.05,94.40 596.09,94.60 597.12,94.82 598.14,95.06 599.16,95.32 600.17,95.60 601.17,95.89 602.17,96.20 603.16,96.52 604.15,96.86 605.12,97.22 606.09,97.60 607.05,97.99 607.84,98.33 613.63,90.00 613.47,89.94 612.35,89.52 611.22,89.12 610.08,88.73 608.93,88.37 607.78,88.03 606.62,87.70 605.46,87.40 604.29,87.12 603.12,86.85 601.94,86.61 600.76,86.39 599.57,86.19 598.38,86.01 597.19,85.85 596.00,85.71 594.80,85.59 594.24,85.54 593.30,94.10 594.02,94.21" fill="#2386cc"/>
<polygon points="609.89,99.26 610.81,99.72 611.73,100.19 612.64,100.67 613.54,101.17 614.42,101.69 615.30,102.22 616.17,102.76 617.02,103.32 617.87,103.89 618.70,104.48 619.52,105.08 620.33,105.69 621.13,106.32 621.92,106.96 622.69,107.61 623.45,108.28 623.92,108.70 634.91,103.07 634.89,103.05 633.99,102.25 633.07,101.48 632.14,100.71 631.20,99.97 630.25,99.23 629.28,98.52 628.30,97.82 627.31,97.14 626.30,96.48 625.29,95.84 624.27,95.21 623.23,94.60 622.18,94.01 621.13,93.43 620.06,92.88 618.98,92.34 617.90,91.82 616.81,91.33 615.70,90.84 615.62,90.81 609.79,99.21 609.89,99.26" fill="#2489cf"/>
<polygon points="625.66,110.34 626.37,111.05 627.07,111.78 627.75,112.51 628.42,113.26 629.07,114.01 629.71,114.78 630.34,115.55 630.95,116.34 631.54,117.13 632.13,117.94 632.69,118.75 633.24,119.57 633.78,120.40 634.30,121.24 634.81,122.08 635.25,122.86 649.56,121.60 649.11,120.79 648.51,119.75 647.90,118.72 647.27,117.69 646.62,116.68 645.95,115.68 645.26,114.70 644.56,113.72 643.84,112.76 643.11,111.81 642.35,110.87 641.59,109.94 640.80,109.03 640.00,108.13 639.19,107.25 638.36,106.38 637.51,105.52 636.65,104.68 636.55,104.59 625.54,110.23 625.66,110.34" fill="#1d69a6"/>
<polygon points="636.68,125.53 637.10,126.41 637.52,127.30 637.91,128.19 638.29,129.09 638.65,129.99 639.00,130.89 639.33,131.81 639.65,132.72 639.94,133.64 640.22,134.56 640.49,135.49 640.74,136.42 640.97,137.35 641.18,138.29 641.38,139.22 641.56,140.16 641.73,141.10 641.88,142.05 642.01,142.99 642.12,143.93 642.22,144.88 642.30,145.82 642.37,146.77 642.42,147.71 642.45,148.65 657.55,146.93 657.41,145.74 657.24,144.55 657.05,143.36 656.84,142.18 656.62,141.00 656.37,139.82 656.10,138.65 655.81,137.48 655.50,136.32 655.17,135.16 654.82,134.01 654.45,132.87 654.06,131.73 653.65,130.60 653.22,129.48 652.78,128.36 652.31,127.26 651.82,126.16 651.32,125.06 650.79,123.98 650.61,123.62 636.34,124.87 636.68,125.53" fill="#1e659f"/>
<polygon points="624.26,128.68 622.94,126.92 563.70,164.60 571.50,175.00" fill="#363636" stroke="#363636" stroke-width="0.8" stroke-linejoin="round"/>
<circle cx="588.4" cy="154.2" r="11" fill="#363636"/>
<circle cx="588.4" cy="154.2" r="7" fill="none" stroke="#ffffff" stroke-width="1.6"/>
<path d="M563.5,191.5 H613.9 L627.1,211.2 A80,80 0 0 1 550.4,211.2 Z" fill="#b3b3b3"/>
<rect x="566.8" y="197" width="43.3" height="17" rx="4" fill="#ffffff"/>
<text x="588.40" y="209.50" font-family='"Liberation Sans", sans-serif' font-size="10.20" font-weight="bold" fill="#333333" text-anchor="middle" textLength="22.50" lengthAdjust="spacingAndGlyphs" xml:space="preserve" >723K</text>
<text x="743.50" y="116.60" font-family='"Liberation Sans", sans-serif' font-size="9.70" font-weight="bold" fill="#333333" text-anchor="start" textLength="74.30" lengthAdjust="spacingAndGlyphs" xml:space="preserve" >Project Analysis</text>
<text x="743.30" y="142.50" font-family='"Liberation Sans", sans-serif' font-size="23.69" font-weight="bold" fill="#1f5f9a" text-anchor="start" textLength="44.70" lengthAdjust="spacingAndGlyphs" xml:space="preserve" >85%</text>
<text x="796.30" y="129.00" font-family='"Liberation Sans", sans-serif' font-size="5.60" font-weight="normal" fill="#c2c2c2" text-anchor="start" textLength="88.70" lengthAdjust="spacing" xml:space="preserve" >Of shopping carts are abandoned</text>
<text x="796.30" y="136.20" font-family='"Liberation Sans", sans-serif' font-size="5.60" font-weight="normal" fill="#c2c2c2" text-anchor="start" textLength="88.70" lengthAdjust="spacing" xml:space="preserve" >right before the transaction its</text>
<text x="796.30" y="143.20" font-family='"Liberation Sans", sans-serif' font-size="5.60" font-weight="normal" fill="#c2c2c2" text-anchor="start" textLength="87.50" lengthAdjust="spacing" xml:space="preserve" >completed. Suitable for all categories</text>
<text x="743.30" y="162.60" font-family='"Liberation Sans", sans-serif' font-size="6.40" font-weight="normal" fill="#c0c0c0" text-anchor="start" textLength="141.40" lengthAdjust="spacing" xml:space="preserve" >For every 6 emails received, we get 3 Phone calls.</text>
<text x="743.30" y="170.60" font-family='"Liberation Sans", sans-serif' font-size="6.40" font-weight="normal" fill="#c0c0c0" text-anchor="start" textLength="141.40" lengthAdjust="spacing" xml:space="preserve" >Suitable for all categories business and personal</text>
<text x="743.30" y="178.80" font-family='"Liberation Sans", sans-serif' font-size="6.40" font-weight="normal" fill="#c0c0c0" text-anchor="start" textLength="141.40" lengthAdjust="spacing" xml:space="preserve" >presentation, Suitable for all categories business</text>
<text x="743.30" y="186.90" font-family='"Liberation Sans", sans-serif' font-size="6.40" font-weight="normal" fill="#c0c0c0" text-anchor="start" textLength="141.40" lengthAdjust="spacing" xml:space="preserve" >and personal presentation, eaque ipsa quae ab illo</text>
<text x="743.30" y="195.20" font-family='"Liberation Sans", sans-serif' font-size="6.40" font-weight="normal" fill="#c0c0c0" text-anchor="start" xml:space="preserve" >inventore veritatis et quasi</text>
<g font-family='"Liberation Serif", serif' font-size="18.63" font-weight="normal" fill="#6b6b6b" stroke="#6b6b6b" stroke-width="0.3"><text transform="translate(40.29,321.40) scale(0.490,1)">W</text><text transform="translate(48.98,321.40) scale(0.967,1)">h</text><text transform="translate(57.80,321.40) scale(0.953,1)">y</text><text transform="translate(75.36,321.40) scale(0.706,1)">D</text><text transform="translate(84.23,321.40) scale(1.000,1)">o</text><text transform="translate(102.17,321.40) scale(0.673,1)">Y</text><text transform="translate(110.81,321.40) scale(1.000,1)">o</text><text transform="translate(119.79,321.40) scale(0.982,1)">u</text><text transform="translate(137.13,321.40) scale(0.808,1)">C</text><text transform="translate(146.43,321.40) scale(0.967,1)">h</text><text transform="translate(155.10,321.40) scale(1.000,1)">o</text><text transform="translate(163.96,321.40) scale(1.000,1)">o</text><text transform="translate(173.81,321.40) scale(1.000,1)">s</text><text transform="translate(182.16,321.40) scale(1.000,1)">e</text><text transform="translate(199.49,321.40) scale(0.678,1)">U</text><text transform="translate(209.24,321.40) scale(1.000,1)">s</text><text transform="translate(226.40,321.40) scale(1.000,1)">?</text></g>
<defs><linearGradient id="hx0" gradientUnits="userSpaceOnUse" x1="106" y1="356.6" x2="182" y2="356.6"><stop offset="0" stop-color="#2b5e9c"/><stop offset="0.25" stop-color="#6f93bf"/><stop offset="0.55" stop-color="#f3f6fa"/><stop offset="0.8" stop-color="#2b5e9c"/><stop offset="1" stop-color="#a8bed8"/></linearGradient><linearGradient id="hx1" gradientUnits="userSpaceOnUse" x1="182" y1="356.6" x2="219" y2="419.5"><stop offset="0" stop-color="#a8bed8"/><stop offset="0.3" stop-color="#f3f6fa"/><stop offset="0.72" stop-color="#2b5e9c"/><stop offset="1" stop-color="#f3f6fa"/></linearGradient><linearGradient id="hx2" gradientUnits="userSpaceOnUse" x1="219" y1="419.5" x2="182" y2="482.4"><stop offset="0" stop-color="#f3f6fa"/><stop offset="0.3" stop-color="#2b5e9c"/><stop offset="0.65" stop-color="#f3f6fa"/><stop offset="1" stop-color="#2b5e9c"/></linearGradient><linearGradient id="hx3" gradientUnits="userSpaceOnUse" x1="182" y1="482.4" x2="106" y2="482.4"><stop offset="0" stop-color="#2b5e9c"/><stop offset="0.25" stop-color="#2b5e9c"/><stop offset="0.55" stop-color="#f3f6fa"/><stop offset="0.72" stop-color="#a8bed8"/><stop offset="1" stop-color="#2b5e9c"/></linearGradient><linearGradient id="hx4" gradientUnits="userSpaceOnUse" x1="106" y1="482.4" x2="69" y2="419.5"><stop offset="0" stop-color="#2b5e9c"/><stop offset="0.38" stop-color="#f3f6fa"/><stop offset="0.75" stop-color="#2b5e9c"/><stop offset="1" stop-color="#f3f6fa"/></linearGradient><linearGradient id="hx5" gradientUnits="userSpaceOnUse" x1="69" y1="419.5" x2="106" y2="356.6"><stop offset="0" stop-color="#f3f6fa"/><stop offset="0.5" stop-color="#a8bed8"/><stop offset="1" stop-color="#2b5e9c"/></linearGradient></defs>
<polygon points="106,356.6 182,356.6 177.5,364 110,364" fill="url(#hx0)" stroke="url(#hx0)" stroke-width="0.4"/>
<polygon points="182,356.6 219,419.5 209.5,419.5 177.5,364" fill="url(#hx1)" stroke="url(#hx1)" stroke-width="0.4"/>
<polygon points="219,419.5 182,482.4 177.5,475 209.5,419.5" fill="url(#hx2)" stroke="url(#hx2)" stroke-width="0.4"/>
<polygon points="182,482.4 106,482.4 110,475 177.5,475" fill="url(#hx3)" stroke="url(#hx3)" stroke-width="0.4"/>
<polygon points="106,482.4 69,419.5 77.7,419.5 110,475" fill="url(#hx4)" stroke="url(#hx4)" stroke-width="0.4"/>
<polygon points="69,419.5 106,356.6 110,364 77.7,419.5" fill="url(#hx5)" stroke="url(#hx5)" stroke-width="0.4"/>
<polygon points="77.7,419.5 110,364 177.5,364 209.5,419.5 177.5,475 110,475" fill="#0b4f95"/>
<g font-family='"Liberation Serif", serif' font-size="13.44" font-weight="normal" fill="#ffffff" stroke="#ffffff" stroke-width="0.2"><text transform="translate(108.19,408.10) scale(0.528,1)">W</text><text transform="translate(115.08,408.10) scale(1.000,1)">h</text><text transform="translate(121.88,408.10) scale(1.000,1)">y</text><text transform="translate(135.53,408.10) scale(1.000,1)">d</text><text transform="translate(142.57,408.10) scale(1.000,1)">o</text><text transform="translate(156.27,408.10) scale(1.000,1)">y</text><text transform="translate(163.21,408.10) scale(1.000,1)">o</text><text transform="translate(170.11,408.10) scale(1.000,1)">u</text></g>
<g font-family='"Liberation Serif", serif' font-size="14.50" font-weight="normal" fill="#ffffff" stroke="#ffffff" stroke-width="0.2"><text transform="translate(121.35,424.80) scale(1.000,1)">c</text><text transform="translate(128.10,424.80) scale(0.984,1)">h</text><text transform="translate(135.03,424.80) scale(1.000,1)">o</text><text transform="translate(142.05,424.80) scale(1.000,1)">o</text><text transform="translate(149.84,424.80) scale(1.000,1)">s</text><text transform="translate(156.47,424.80) scale(1.000,1)">e</text></g>
<g font-family='"Liberation Serif", serif' font-size="18.78" font-weight="normal" fill="#ffffff" stroke="#ffffff" stroke-width="0.2"><text transform="translate(133.15,444.70) scale(1.000,1)">u</text><text transform="translate(143.41,444.70) scale(1.000,1)">s</text><text transform="translate(152.14,444.70) scale(1.000,1)">?</text></g>
<circle cx="258.2" cy="367.1" r="7.1" fill="#1ba1e2"/>
<text x="258.20" y="369.80" font-family='"Liberation Sans", sans-serif' font-size="7.60" font-weight="normal" fill="#ffffff" text-anchor="middle" xml:space="preserve" >A</text>
<text x="269.50" y="370.70" font-family='"Liberation Sans", sans-serif' font-size="8.72" font-weight="normal" fill="#606060" text-anchor="start" textLength="76.70" lengthAdjust="spacingAndGlyphs" xml:space="preserve" >A Title About Content</text>
<circle cx="270.8" cy="380.6" r="0.95" fill="#8a8a8a"/>
<circle cx="270.8" cy="396.7" r="0.95" fill="#8a8a8a"/>
<text x="280.90" y="383.00" font-family='"Liberation Sans", sans-serif' font-size="6.40" font-weight="normal" fill="#a6a6a6" text-anchor="start" textLength="111.80" lengthAdjust="spacingAndGlyphs" xml:space="preserve" >Lorem ipsum dolor sit amet, consectetur</text>
<text x="280.90" y="391.10" font-family='"Liberation Sans", sans-serif' font-size="6.40" font-weight="normal" fill="#a6a6a6" text-anchor="start" xml:space="preserve" >adipiscing elit.</text>
<text x="280.90" y="399.10" font-family='"Liberation Sans", sans-serif' font-size="6.40" font-weight="normal" fill="#a6a6a6" text-anchor="start" textLength="126.50" lengthAdjust="spacingAndGlyphs" xml:space="preserve" >Vestibulum dignissim nunc nisi, ac scelerisque</text>
<circle cx="258.2" cy="409.3" r="7.1" fill="#1a6ac0"/>
<text x="258.20" y="412.00" font-family='"Liberation Sans", sans-serif' font-size="7.60" font-weight="normal" fill="#ffffff" text-anchor="middle" xml:space="preserve" >B</text>
<text x="269.50" y="412.90" font-family='"Liberation Sans", sans-serif' font-size="8.72" font-weight="normal" fill="#606060" text-anchor="start" textLength="76.70" lengthAdjust="spacingAndGlyphs" xml:space="preserve" >A Title About Content</text>
<circle cx="270.8" cy="424.2" r="0.95" fill="#8a8a8a"/>
<circle cx="270.8" cy="440.6" r="0.95" fill="#8a8a8a"/>
<text x="280.90" y="426.60" font-family='"Liberation Sans", sans-serif' font-size="6.40" font-weight="normal" fill="#a6a6a6" text-anchor="start" textLength="111.80" lengthAdjust="spacingAndGlyphs" xml:space="preserve" >Lorem ipsum dolor sit amet, consectetur</text>
<text x="280.90" y="434.80" font-family='"Liberation Sans", sans-serif' font-size="6.40" font-weight="normal" fill="#a6a6a6" text-anchor="start" xml:space="preserve" >adipiscing elit.</text>
<text x="280.90" y="443.00" font-family='"Liberation Sans", sans-serif' font-size="6.40" font-weight="normal" fill="#a6a6a6" text-anchor="start" textLength="126.50" lengthAdjust="spacingAndGlyphs" xml:space="preserve" >Vestibulum dignissim nunc nisi, ac scelerisque</text>
<circle cx="258.2" cy="455.3" r="7.1" fill="#4472c4"/>
<text x="258.20" y="458.00" font-family='"Liberation Sans", sans-serif' font-size="7.60" font-weight="normal" fill="#ffffff" text-anchor="middle" xml:space="preserve" >C</text>
<text x="269.50" y="458.90" font-family='"Liberation Sans", sans-serif' font-size="8.72" font-weight="normal" fill="#606060" text-anchor="start" textLength="76.70" lengthAdjust="spacingAndGlyphs" xml:space="preserve" >A Title About Content</text>
<circle cx="270.0" cy="468.8" r="0.95" fill="#8a8a8a"/>
<circle cx="270.0" cy="485.2" r="0.95" fill="#8a8a8a"/>
<text x="280.10" y="471.20" font-family='"Liberation Sans", sans-serif' font-size="6.40" font-weight="normal" fill="#a6a6a6" text-anchor="start" textLength="111.80" lengthAdjust="spacingAndGlyphs" xml:space="preserve" >Lorem ipsum dolor sit amet, consectetur</text>
<text x="280.10" y="479.40" font-family='"Liberation Sans", sans-serif' font-size="6.40" font-weight="normal" fill="#a6a6a6" text-anchor="start" xml:space="preserve" >adipiscing elit.</text>
<text x="280.10" y="487.60" font-family='"Liberation Sans", sans-serif' font-size="6.40" font-weight="normal" fill="#a6a6a6" text-anchor="start" textLength="126.50" lengthAdjust="spacingAndGlyphs" xml:space="preserve" >Vestibulum dignissim nunc nisi, ac scelerisque</text>
<g stroke="#cccccc" stroke-width="1">
<line x1="619" y1="305" x2="566" y2="327"/>
<line x1="619" y1="305" x2="672" y2="309"/>
<line x1="566" y1="327" x2="627" y2="320"/>
<line x1="627" y1="320" x2="672" y2="309"/>
<line x1="627" y1="320" x2="682" y2="360"/>
<line x1="627" y1="320" x2="588" y2="383"/>
<line x1="566" y1="327" x2="537" y2="369"/>
<line x1="566" y1="327" x2="547" y2="385"/>
<line x1="566" y1="327" x2="588" y2="383"/>
<line x1="537" y1="369" x2="529" y2="429"/>
<line x1="547" y1="385" x2="588" y2="383"/>
<line x1="547" y1="385" x2="625" y2="352"/>
<line x1="547" y1="385" x2="577" y2="459"/>
<line x1="625" y1="352" x2="672" y2="309"/>
<line x1="625" y1="352" x2="682" y2="360"/>
<line x1="625" y1="352" x2="647" y2="399"/>
<line x1="588" y1="383" x2="682" y2="360"/>
<line x1="588" y1="383" x2="647" y2="399"/>
<line x1="588" y1="383" x2="577" y2="459"/>
<line x1="588" y1="383" x2="619" y2="418"/>
<line x1="672" y1="309" x2="716" y2="341"/>
<line x1="672" y1="309" x2="682" y2="360"/>
<line x1="716" y1="341" x2="682" y2="360"/>
<line x1="716" y1="341" x2="740" y2="383"/>
<line x1="682" y1="360" x2="740" y2="383"/>
<line x1="682" y1="360" x2="647" y2="399"/>
<line x1="682" y1="360" x2="680" y2="434"/>
<line x1="682" y1="360" x2="725" y2="446"/>
<line x1="647" y1="399" x2="740" y2="383"/>
<line x1="740" y1="383" x2="725" y2="446"/>
<line x1="740" y1="383" x2="743" y2="444"/>
<line x1="647" y1="399" x2="619" y2="418"/>
<line x1="647" y1="399" x2="680" y2="434"/>
<line x1="529" y1="429" x2="577" y2="459"/>
<line x1="529" y1="429" x2="552" y2="477"/>
<line x1="577" y1="459" x2="619" y2="418"/>
<line x1="577" y1="459" x2="659" y2="467"/>
<line x1="577" y1="459" x2="552" y2="477"/>
<line x1="577" y1="459" x2="602" y2="511"/>
<line x1="577" y1="459" x2="639" y2="498"/>
<line x1="552" y1="477" x2="602" y2="511"/>
<line x1="602" y1="511" x2="639" y2="498"/>
<line x1="602" y1="511" x2="659" y2="467"/>
<line x1="602" y1="511" x2="658" y2="509"/>
<line x1="619" y1="418" x2="659" y2="467"/>
<line x1="680" y1="434" x2="725" y2="446"/>
<line x1="680" y1="434" x2="659" y2="467"/>
<line x1="680" y1="434" x2="705" y2="490"/>
<line x1="725" y1="446" x2="659" y2="467"/>
<line x1="725" y1="446" x2="705" y2="490"/>
<line x1="743" y1="444" x2="705" y2="490"/>
<line x1="659" y1="467" x2="705" y2="490"/>
<line x1="659" y1="467" x2="639" y2="498"/>
<line x1="659" y1="467" x2="658" y2="509"/>
<line x1="658" y1="509" x2="705" y2="490"/>
</g>
<circle cx="619" cy="305" r="5.6" fill="#22c1dd"/>
<circle cx="627" cy="320" r="5.6" fill="#3a70b5"/>
<circle cx="566" cy="327" r="5.6" fill="#358cc2"/>
<circle cx="537" cy="369" r="5.6" fill="#2aaed2"/>
<circle cx="547" cy="385" r="5.6" fill="#4a3f9b"/>
<circle cx="588" cy="383" r="5.6" fill="#358cc2"/>
<circle cx="625" cy="352" r="5.6" fill="#2aaed2"/>
<circle cx="672" cy="309" r="5.6" fill="#22c1dd"/>
<circle cx="682" cy="360" r="5.6" fill="#3a70b5"/>
<circle cx="716" cy="341" r="5.6" fill="#2aaed2"/>
<circle cx="740" cy="383" r="5.6" fill="#22c1dd"/>
<circle cx="647" cy="399" r="5.6" fill="#358cc2"/>
<circle cx="529" cy="429" r="5.6" fill="#3a70b5"/>
<circle cx="577" cy="459" r="5.6" fill="#4a58a6"/>
<circle cx="552" cy="477" r="5.6" fill="#22c1dd"/>
<circle cx="602" cy="511" r="5.6" fill="#4a3f9b"/>
<circle cx="639" cy="498" r="5.6" fill="#358cc2"/>
<circle cx="619" cy="418" r="5.6" fill="#2aaed2"/>
<circle cx="680" cy="434" r="5.6" fill="#4a3f9b"/>
<circle cx="725" cy="446" r="5.6" fill="#2aaed2"/>
<circle cx="743" cy="444" r="5.6" fill="#4a58a6"/>
<circle cx="659" cy="467" r="5.6" fill="#3a70b5"/>
<circle cx="705" cy="490" r="5.6" fill="#358cc2"/>
<circle cx="658" cy="509" r="5.6" fill="#2aaed2"/>
<text x="924.00" y="308.40" font-family='"Liberation Sans", sans-serif' font-size="17.88" font-weight="normal" fill="#444444" text-anchor="end" textLength="184.90" lengthAdjust="spacingAndGlyphs" xml:space="preserve" >Ball Spheres of Science</text>
<text x="924.00" y="320.70" font-family='"Liberation Sans", sans-serif' font-size="9.59" font-weight="normal" fill="#555555" text-anchor="end" textLength="144.00" lengthAdjust="spacingAndGlyphs" xml:space="preserve" >Change font icons, no lose animation</text>
<path d="M908.6,350 H921.6 Q921.6,343.3 915.1,343.3 Q908.6,343.3 908.6,350.1 Q908.6,356.8 915.1,356.8 Q919.3,356.8 921.2,354.3" fill="none" stroke="#383838" stroke-width="1.1"/>
<text x="924.00" y="374.20" font-family='"Liberation Sans", sans-serif' font-size="13.23" font-weight="normal" fill="#444444" text-anchor="end" textLength="60.40" lengthAdjust="spacingAndGlyphs" xml:space="preserve" >Responsive</text>
<text x="924.00" y="383.30" font-family='"Liberation Sans", sans-serif' font-size="8.60" font-weight="normal" fill="#3d3d3d" text-anchor="end" textLength="103.30" lengthAdjust="spacingAndGlyphs" xml:space="preserve" >Etiam dignissim dolor sit amet</text>
<text x="924.00" y="391.70" font-family='"Liberation Sans", sans-serif' font-size="8.60" font-weight="normal" fill="#3d3d3d" text-anchor="end" textLength="100.60" lengthAdjust="spacingAndGlyphs" xml:space="preserve" >dictum volutpat. Sed egestas</text>
<text x="924.00" y="400.10" font-family='"Liberation Sans", sans-serif' font-size="8.60" font-weight="normal" fill="#3d3d3d" text-anchor="end" textLength="106.90" lengthAdjust="spacingAndGlyphs" xml:space="preserve" >egestas turpis, vitae accumsan</text>
<text x="924.00" y="408.50" font-family='"Liberation Sans", sans-serif' font-size="8.60" font-weight="normal" fill="#3d3d3d" text-anchor="end" textLength="46.60" lengthAdjust="spacingAndGlyphs" xml:space="preserve" >nunc aliquam</text>
<path d="M911.4,427.3 V441.2 Q911.4,444.3 914.5,444.3 H922 M908.6,432.6 H920" fill="none" stroke="#383838" stroke-width="1.1"/>
<text x="924.20" y="462.00" font-family='"Liberation Sans", sans-serif' font-size="12.50" font-weight="normal" fill="#444444" text-anchor="end" textLength="29.20" lengthAdjust="spacingAndGlyphs" xml:space="preserve" >Scale</text>
<text x="924.00" y="471.10" font-family='"Liberation Sans", sans-serif' font-size="8.60" font-weight="normal" fill="#3d3d3d" text-anchor="end" textLength="103.30" lengthAdjust="spacingAndGlyphs" xml:space="preserve" >Etiam dignissim dolor sit amet</text>
<text x="924.00" y="479.30" font-family='"Liberation Sans", sans-serif' font-size="8.60" font-weight="normal" fill="#3d3d3d" text-anchor="end" textLength="100.60" lengthAdjust="spacingAndGlyphs" xml:space="preserve" >dictum volutpat. Sed egestas</text>
<text x="924.00" y="487.50" font-family='"Liberation Sans", sans-serif' font-size="8.60" font-weight="normal" fill="#3d3d3d" text-anchor="end" textLength="106.90" lengthAdjust="spacingAndGlyphs" xml:space="preserve" >egestas turpis, vitae accumsan</text>
<text x="924.00" y="496.10" font-family='"Liberation Sans", sans-serif' font-size="8.60" font-weight="normal" fill="#3d3d3d" text-anchor="end" textLength="46.60" lengthAdjust="spacingAndGlyphs" xml:space="preserve" >nunc aliquam</text>
</svg>
</body></html>
